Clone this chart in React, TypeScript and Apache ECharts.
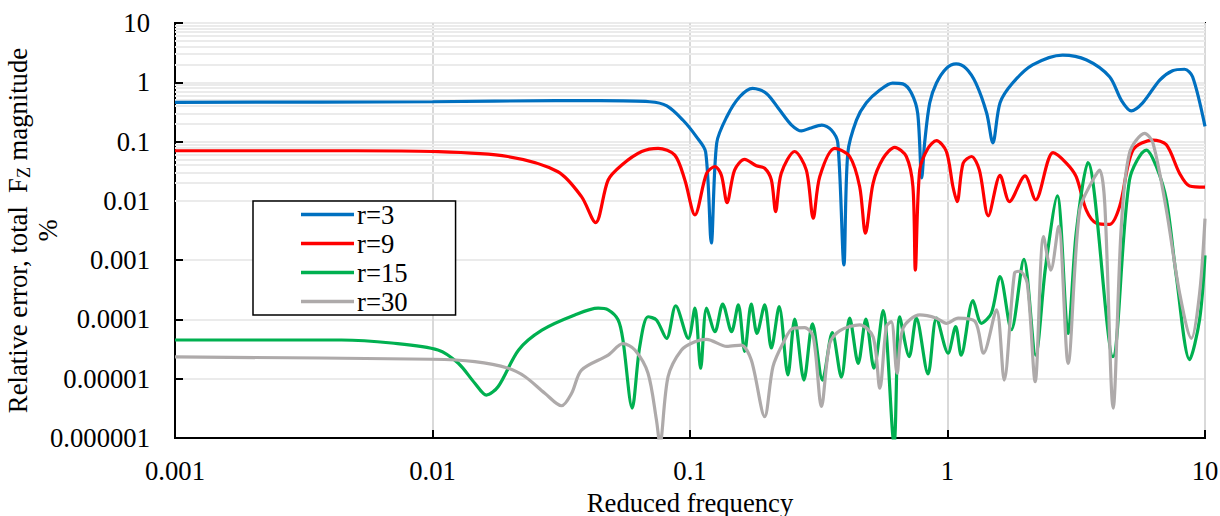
import React, { useEffect, useRef } from 'react';
import * as echarts from 'echarts';

const FONT = "'Liberation Serif', 'Times New Roman', serif";
const FS = 26.67;

// r = 3
const r3Freq = [0.001, 0.01, 0.03, 0.0447, 0.0698, 0.0813, 0.0938, 0.106, 0.115, 0.121, 0.127, 0.139, 0.156, 0.175, 0.198, 0.223, 0.248, 0.271, 0.292, 0.325, 0.354, 0.375, 0.396, 0.41, 0.443, 0.484, 0.546, 0.612, 0.67, 0.724, 0.766, 0.794, 0.815, 0.853, 0.906, 0.99, 1.08, 1.18, 1.29, 1.42, 1.5, 1.6, 1.79, 2.14, 2.8, 3.47, 4.26, 4.73, 5.17, 5.73, 6.67, 7.48, 8.33, 8.95, 10];
const r3Err = [0.46, 0.47, 0.49, 0.49, 0.47, 0.4, 0.231, 0.12, 0.067, 0.00195, 0.095, 0.263, 0.57, 0.79, 0.65, 0.34, 0.19, 0.151, 0.168, 0.19, 0.157, 0.095, 0.00083, 0.064, 0.23, 0.45, 0.74, 0.97, 0.94, 0.66, 0.3, 0.0243, 0.095, 0.45, 0.97, 1.72, 2.04, 1.72, 0.96, 0.3, 0.095, 0.45, 0.97, 1.96, 2.88, 2.38, 1.24, 0.5, 0.33, 0.45, 1.09, 1.57, 1.66, 1.24, 0.18];

// r = 9
const r9Freq = [0.001, 0.005, 0.01, 0.0196, 0.0307, 0.0379, 0.043, 0.0481, 0.0542, 0.0649, 0.0752, 0.0873, 0.0955, 0.1045, 0.116, 0.125, 0.1324, 0.1393, 0.149, 0.163, 0.181, 0.195, 0.207, 0.215, 0.226, 0.255, 0.283, 0.301, 0.319, 0.365, 0.417, 0.456, 0.48, 0.514, 0.562, 0.624, 0.692, 0.734, 0.75, 0.78, 0.84, 0.906, 0.99, 1.05, 1.09, 1.15, 1.24, 1.33, 1.44, 1.6, 1.74, 2.0, 2.2, 2.57, 2.9, 3.16, 3.46, 3.79, 4.26, 4.66, 5.25, 6.28, 7.08, 7.97, 8.71, 10];
const r9Err = [0.07, 0.07, 0.068, 0.056, 0.031, 0.0118, 0.0043, 0.0225, 0.04, 0.068, 0.077, 0.059, 0.0225, 0.0058, 0.029, 0.038, 0.027, 0.0093, 0.033, 0.05, 0.039, 0.0355, 0.0225, 0.0066, 0.029, 0.068, 0.033, 0.0051, 0.0256, 0.077, 0.056, 0.0173, 0.00284, 0.0198, 0.052, 0.08, 0.056, 0.0173, 0.00068, 0.033, 0.077, 0.104, 0.068, 0.0173, 0.0097, 0.043, 0.056, 0.033, 0.0056, 0.027, 0.0097, 0.0263, 0.0104, 0.065, 0.043, 0.0256, 0.007, 0.0042, 0.004, 0.008, 0.072, 0.106, 0.088, 0.029, 0.0178, 0.017];

// r = 15
const r15Freq = [0.001, 0.00443, 0.00693, 0.0105, 0.0126, 0.0146, 0.0162, 0.018, 0.0216, 0.0266, 0.0357, 0.044, 0.0481, 0.0526, 0.0549, 0.0596, 0.0638, 0.0687, 0.0741, 0.0811, 0.088, 0.0985, 0.1045, 0.11, 0.116, 0.125, 0.134, 0.145, 0.154, 0.163, 0.173, 0.182, 0.195, 0.207, 0.222, 0.24, 0.255, 0.277, 0.299, 0.327, 0.357, 0.387, 0.417, 0.45, 0.482, 0.518, 0.562, 0.62, 0.652, 0.71, 0.757, 0.84, 0.906, 1.005, 1.076, 1.13, 1.256, 1.355, 1.48, 1.6, 1.77, 1.98, 2.2, 2.4, 2.67, 2.94, 3.16, 3.51, 4.39, 5.09, 5.92, 6.47, 7.08, 7.74, 8.71, 9.53, 10];
const r15Err = [4.5e-5, 4.5e-5, 4.0e-5, 3.06e-5, 1.82e-5, 8.4e-6, 5.3e-6, 7.4e-6, 3.06e-5, 6.6e-5, 1.19e-4, 1.55e-4, 1.45e-4, 9.8e-5, 4.5e-5, 3.2e-6, 3.5e-5, 1.11e-4, 9.8e-5, 4.8e-5, 1.7e-4, 4.8e-5, 1.55e-4, 1.5e-5, 1.55e-4, 6.2e-5, 1.82e-4, 6.2e-5, 1.76e-4, 2.9e-5, 1.82e-4, 5.8e-5, 1.76e-4, 3.3e-5, 1.64e-4, 1.16e-5, 1.01e-4, 9.5e-6, 8.4e-5, 9.5e-6, 6.0e-5, 1.06e-5, 1.05e-4, 1.82e-5, 1.01e-4, 1.5e-5, 1.41e-4, 8e-7, 1.11e-4, 2.36e-5, 1.05e-4, 1.2e-5, 1.05e-4, 2.7e-5, 7.6e-5, 2.5e-5, 2.07e-4, 8.6e-5, 1.27e-4, 5.3e-4, 6.7e-5, 1.03e-3, 2.5e-5, 7.3e-4, 0.0121, 5.8e-5, 0.00284, 0.044, 2.36e-5, 0.0225, 0.072, 0.038, 0.0104, 5.3e-4, 2.1e-5, 1.0e-4, 0.0012];

// r = 30
const r30Freq = [0.001, 0.01, 0.0146, 0.0197, 0.0229, 0.0273, 0.0317, 0.0347, 0.0379, 0.0481, 0.0549, 0.0611, 0.0687, 0.0741, 0.0764, 0.0822, 0.0927, 0.1045, 0.116, 0.139, 0.158, 0.173, 0.195, 0.21, 0.23, 0.251, 0.279, 0.301, 0.324, 0.349, 0.382, 0.456, 0.514, 0.546, 0.579, 0.605, 0.637, 0.672, 0.78, 0.906, 0.99, 1.1, 1.28, 1.38, 1.55, 1.66, 1.82, 1.91, 2.04, 2.19, 2.36, 2.52, 2.7, 2.94, 3.26, 3.67, 3.9, 4.08, 4.4, 4.73, 5.09, 5.83, 6.28, 7.08, 7.97, 8.85, 9.53, 10];
const r30Err = [2.33e-5, 2.13e-5, 1.94e-5, 1.5e-5, 1.08e-5, 5.7e-6, 3.5e-6, 5.7e-6, 1.4e-5, 2.5e-5, 3.9e-5, 3.06e-5, 1.24e-5, 2.0e-6, 8e-7, 1.08e-5, 3.06e-5, 4.2e-5, 4.6e-5, 3.5e-5, 3.7e-5, 2.07e-5, 2.3e-6, 1.6e-5, 4.0e-5, 7.1e-5, 7.3e-5, 5.1e-5, 3.4e-6, 4.0e-5, 6.5e-5, 8.1e-5, 5.1e-5, 6.9e-6, 7.6e-5, 9.2e-5, 1.24e-5, 7.1e-5, 1.19e-4, 1.05e-4, 8.6e-5, 1.05e-4, 9.2e-5, 2.7e-5, 1.45e-4, 9.5e-6, 6.0e-4, 6.5e-4, 4.1e-4, 8.9e-6, 0.0025, 6.8e-4, 0.0037, 1.82e-5, 0.007, 0.0225, 0.033, 0.0091, 3.2e-6, 0.0037, 0.064, 0.138, 0.094, 0.007, 2.77e-4, 4.8e-5, 2.77e-4, 0.005];

const seriesNames = ['r=3', 'r=9', 'r=15', 'r=30'];
const seriesColors = ['#0070C0', '#FF0000', '#00B050', '#AEAAAA'];
const seriesFreqs = [r3Freq, r9Freq, r15Freq, r30Freq];
const seriesErrs = [r3Err, r9Err, r15Err, r30Err];

const yDecades = [1e-6, 1e-5, 1e-4, 1e-3, 1e-2, 1e-1, 1];
const minorMantissas = [2, 3, 4, 5, 6, 7, 8, 9];

function fmt(v: number): string {
  const e = Math.round(Math.log10(v));
  return e >= 0 ? String(Math.pow(10, e)) : '0.' + '0'.repeat(-e - 1) + '1';
}

export default function App() {
  const ref = useRef<HTMLDivElement>(null);
  useEffect(() => {
    const chart = echarts.init(ref.current as HTMLDivElement, null, { renderer: 'svg' });
    const minorY: number[] = [];
    yDecades.forEach((d) => minorMantissas.forEach((m) => minorY.push(+(m * d).toPrecision(3))));

    const lineSeries = seriesNames.map((name, i) => ({
      name,
      type: 'line',
      data: seriesFreqs[i].map((f, j) => [f, seriesErrs[i][j]]),
      showSymbol: false,
      symbol: 'none',
      smooth: 0.3,
      clip: true,
      z: 3,
      lineStyle: { color: seriesColors[i], width: 3.2 },
      itemStyle: { color: seriesColors[i] },
    }));

    const axisText = { fontSize: FS, fontFamily: FONT, color: '#000' };

    chart.setOption({
      animation: false,
      grid: {
        left: 175, right: 15, top: 23, bottom: 78,
        show: true, borderColor: '#000', borderWidth: 2,
        containLabel: false, outerBoundsMode: 'none',
      },
      legend: {
        data: seriesNames,
        orient: 'vertical',
        left: 253,
        top: 201,
        icon: 'rect',
        itemWidth: 53,
        itemHeight: 3.5,
        itemGap: 2,
        padding: [0, 48, 0, 48],
        borderColor: '#000',
        borderWidth: 1.5,
        backgroundColor: '#fff',
        selectedMode: false,
        textStyle: { ...axisText, lineHeight: 26, padding: [0, 0, 0, -2] },
      },
      xAxis: {
        type: 'log',
        logBase: 10,
        min: 0.001,
        max: 10,
        axisLine: { show: true, lineStyle: { color: '#000', width: 2 } },
        axisTick: { show: true, inside: true, length: 8, lineStyle: { color: '#000', width: 2 } },
        axisLabel: { ...axisText, margin: 19, formatter: fmt },
        splitLine: { show: true, lineStyle: { color: '#d9d9d9', width: 2 } },
        name: 'Reduced frequency',
        nameLocation: 'middle',
        nameGap: 51,
        nameMoveOverlap: false,
        nameTextStyle: { ...axisText },
      },
      yAxis: {
        type: 'log',
        logBase: 10,
        min: 1e-6,
        max: 10,
        axisLine: { show: true, lineStyle: { color: '#000', width: 2 } },
        axisTick: { show: true, inside: true, length: 8, lineStyle: { color: '#000', width: 2 } },
        axisLabel: { ...axisText, margin: 25, formatter: fmt },
        splitLine: { show: true, lineStyle: { color: '#ebebeb', width: 2 } },
        name: '{a|Relative error, total  F}{s|Z}{a| magnitude}\n{a|%}',
        nameLocation: 'middle',
        nameGap: 112,
        nameMoveOverlap: false,
        nameTextStyle: {
          rich: {
            a: { fontSize: FS, fontFamily: FONT, color: '#000', lineHeight: 30 },
            s: { fontSize: 18, fontFamily: FONT, color: '#000', lineHeight: 14, verticalAlign: 'bottom' },
          },
        },
      },
      series: [
        {
          name: '_grid',
          type: 'line',
          data: [],
          silent: true,
          z: 1,
          markLine: {
            silent: true,
            z: 1,
            symbol: ['none', 'none'],
            label: { show: false },
            lineStyle: { color: '#ebebeb', width: 2, type: 'solid' },
            emphasis: { disabled: true },
            data: minorY.map((v) => ({ yAxis: v })),
          },
        },
        ...lineSeries,
      ],
    });
    return () => chart.dispose();
  }, []);
  return <div ref={ref} style={{ position: 'absolute', left: 0, top: 0, width: 1220, height: 516 }} />;
}
